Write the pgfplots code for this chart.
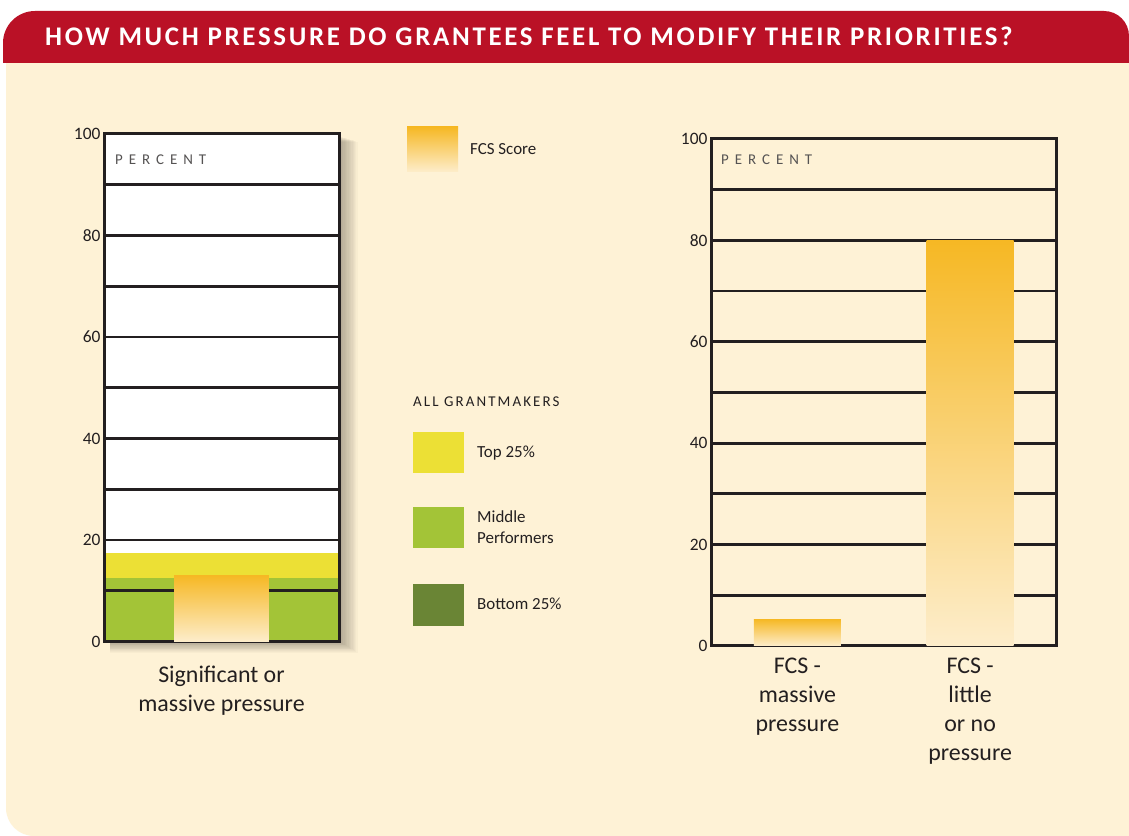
\documentclass[border=0pt]{standalone}
\usepackage{fontspec}
\usepackage{pgfplots}
\pgfplotsset{compat=1.18}
\setmainfont{Carlito}
\newfontfamily\spacedfont[LetterSpace=40]{Carlito}
\newfontfamily\grantfont[LetterSpace=14]{Carlito}
\newfontfamily\titlefont[LetterSpace=10]{Carlito}
\definecolor{hdr}{HTML}{BA1126}
\definecolor{cream}{HTML}{FEF2D6}
\definecolor{fcstop}{HTML}{F6B824}
\definecolor{fcsbot}{HTML}{FDEDCB}
\definecolor{top25}{HTML}{ECE035}
\definecolor{mid}{HTML}{A3C437}
\definecolor{bot25}{HTML}{6A8535}
\definecolor{ink}{HTML}{231F20}
\definecolor{gtxt}{HTML}{555353}
\pgfplotsset{
  myframe/.style={
    scale only axis, xmin=0, xmax=1, ymin=0, ymax=100,
    ytick={0,20,40,60,80,100}, minor ytick={10,30,50,70,90},
    ymajorgrids, yminorgrids,
    major grid style={draw=ink, line width=2.8bp},
    minor grid style={draw=ink, line width=2.8bp},
    major tick length=0pt, minor tick length=0pt,
    axis line style={draw=ink, line width=3bp},
    /pgf/number format/assume math mode=true,
    yticklabel style={font=\fontsize{17.5}{17.5}\selectfont, text=ink},
  }
}
\begin{document}
\begin{tikzpicture}
\useasboundingbox (0bp,0bp) rectangle (1129bp,836bp);
\begin{scope}[x=1bp,y=1bp]
\fill[white] (0,0) rectangle (1129,836);
\fill[cream] (6,785) -- (6,28) arc[start angle=180,end angle=270,radius=28] -- (1129,0) -- (1129,785) -- cycle;
\fill[hdr] (3,773) -- (3,793) arc[start angle=180,end angle=90,radius=32] -- (1104,825) arc[start angle=90,end angle=0,radius=25] -- (1129,773) -- cycle;
\node[anchor=base west, inner sep=0pt, text=white, font=\titlefont\bfseries\fontsize{27}{27}\selectfont] at (45,790) {HOW MUCH PRESSURE DO GRANTEES FEEL TO MODIFY THEIR PRIORITIES?};
\foreach \i in {1,...,14} {\fill[black,opacity=0.022] (110,194.5-0.8*\i) rectangle (339.5+1.3*\i,700-0.4*\i);}
\fill[white] (104,194.5) rectangle (339,702);
\end{scope}
% left panel: background bands
\begin{axis}[myframe, at={(104bp,194.5bp)}, anchor=south west, width=235bp, height=507.5bp, hide axis]
\addplot[fill=top25, draw=none] coordinates {(0,17.5) (1,17.5)} \closedcycle;
\addplot[fill=mid, draw=none] coordinates {(0,12.5) (1,12.5)} \closedcycle;
\end{axis}
% left panel: grid, FCS bar, frame
\begin{axis}[myframe, at={(104bp,194.5bp)}, anchor=south west, width=235bp, height=507.5bp,
  xtick={0.5}, xticklabels={{Significant or\\massive pressure}},
  xticklabel style={font=\fontsize{24}{29}\selectfont, align=center, text=ink, anchor=north, inner sep=0pt, yshift=-24bp}]
\addplot[ybar, bar width=0.404, draw=none, top color=fcstop, bottom color=fcsbot] coordinates {(0.5,13)};
\end{axis}
% right panel
\begin{axis}[myframe, at={(711bp,190bp)}, anchor=south west, width=345.5bp, height=507bp,
  xtick={0.25,0.75}, xticklabels={{FCS -\\massive\\pressure},{FCS -\\little\\or no\\pressure}},
  xticklabel style={font=\fontsize{24}{29}\selectfont, align=center, text=ink, anchor=north, inner sep=0pt, yshift=-12bp}]
\addplot[ybar, bar width=0.252, draw=none, top color=fcstop, bottom color=fcsbot] coordinates {(0.25,5.3)};
\addplot[ybar, bar width=0.252, draw=none, top color=fcstop, bottom color=fcsbot] coordinates {(0.75,80)};
\end{axis}
\begin{scope}[x=1bp,y=1bp]
\node[anchor=base west, inner sep=0pt, text=gtxt, font=\spacedfont\fontsize{15}{15}\selectfont] at (115,671) {PERCENT};
\node[anchor=base west, inner sep=0pt, text=gtxt, font=\spacedfont\fontsize{15}{15}\selectfont] at (721,671) {PERCENT};
\shade[top color=fcstop, bottom color=fcsbot] (407,664) rectangle (458,709);
\node[anchor=base west, inner sep=0pt, text=ink, font=\fontsize{17}{17}\selectfont] at (470,681) {FCS Score};
\node[anchor=base west, inner sep=0pt, text=ink, font=\grantfont\fontsize{15}{15}\selectfont] at (413,429) {ALL GRANTMAKERS};
\fill[top25] (413,363) rectangle (464,404);
\node[anchor=base west, inner sep=0pt, text=ink, font=\fontsize{17}{17}\selectfont] at (477,379) {Top 25\%};
\fill[mid] (413,288) rectangle (464,329);
\node[anchor=base west, inner sep=0pt, text=ink, font=\fontsize{17}{17}\selectfont] at (477,314) {Middle};
\node[anchor=base west, inner sep=0pt, text=ink, font=\fontsize{17}{17}\selectfont] at (477,293) {Performers};
\fill[bot25] (413,210) rectangle (464,252);
\node[anchor=base west, inner sep=0pt, text=ink, font=\fontsize{17}{17}\selectfont] at (477,227) {Bottom 25\%};
\end{scope}
\end{tikzpicture}
\end{document}
